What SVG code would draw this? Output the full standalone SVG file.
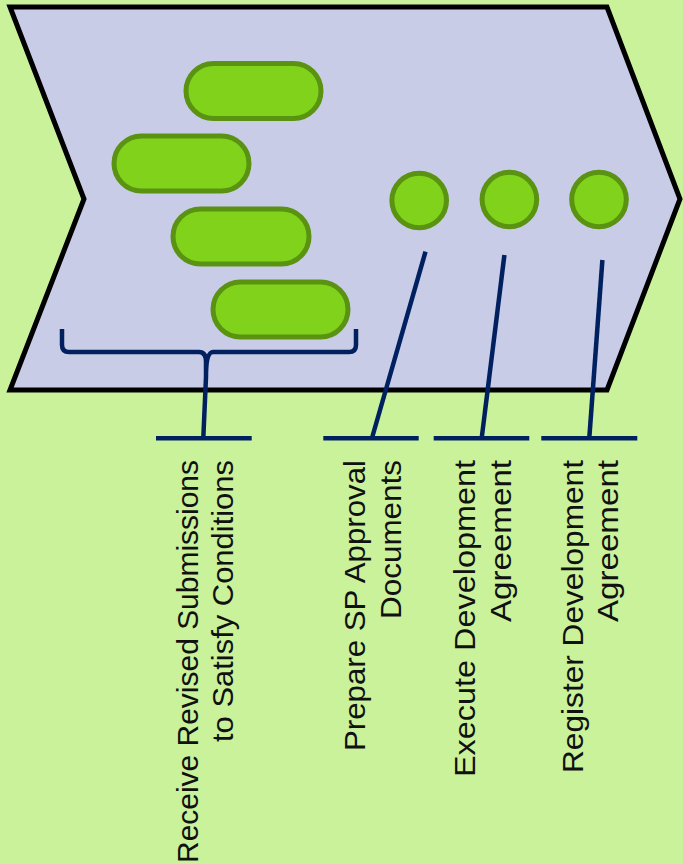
<svg xmlns="http://www.w3.org/2000/svg" width="683" height="864" viewBox="0 0 683 864">
<style>
.pill{fill:#80d31a;stroke:#5a9212;stroke-width:5}
.ln{fill:none;stroke:#002060;stroke-width:4.5;stroke-linecap:butt}
.lbl{font-family:"Liberation Sans",Arial,sans-serif;font-size:30px;fill:#111;text-anchor:end}
</style>
<rect width="683" height="864" fill="#caf29b"/>
<g id="chevron">
<polygon points="10,7 607,7 680,199 607,390 10,390 84,199" fill="#c8cce6" stroke="#000" stroke-width="5" stroke-linejoin="miter"/>
</g>
<g id="pill1"><rect class="pill" x="186" y="63.5" width="135" height="55" rx="27.5"/></g>
<g id="pill2"><rect class="pill" x="114" y="136" width="135" height="55" rx="27.5"/></g>
<g id="pill3"><rect class="pill" x="173" y="209" width="136" height="55" rx="27.5"/></g>
<g id="pill4"><rect class="pill" x="213" y="282" width="135" height="55" rx="27.5"/></g>
<g id="circle1"><circle class="pill" cx="419.2" cy="200.5" r="27.3"/></g>
<g id="circle2"><circle class="pill" cx="509.4" cy="199.5" r="27.3"/></g>
<g id="circle3"><circle class="pill" cx="599" cy="199.5" r="27.3"/></g>
<g id="connectors">
<path class="ln" d="M62,329 L62,345 Q62,352 69,352 L199,352 Q206,352 206,362 L206,377 Q206,352 213,352 L349,352 Q356,352 356,345 L356,329"/>
<path class="ln" d="M206,377 L203.3,438"/>
<path class="ln" d="M156,438.3 L251.7,438.3"/>
<path class="ln" d="M425.5,251.7 L372,438"/>
<path class="ln" d="M323.3,438.3 L418.7,438.3"/>
<path class="ln" d="M504.4,255 L481.7,438"/>
<path class="ln" d="M433.7,438.3 L529.3,438.3"/>
<path class="ln" d="M602.4,260 L589.3,438"/>
<path class="ln" d="M541.3,438.3 L637.3,438.3"/>
</g>
<g id="label1">
<text class="lbl" transform="translate(198.3,460) rotate(-90)" textLength="403" lengthAdjust="spacingAndGlyphs">Receive Revised Submissions</text>
<text class="lbl" transform="translate(233.3,460) rotate(-90)" textLength="282" lengthAdjust="spacingAndGlyphs">to Satisfy Conditions</text>
</g>
<g id="label2">
<text class="lbl" transform="translate(365,460) rotate(-90)" textLength="291" lengthAdjust="spacingAndGlyphs">Prepare SP Approval</text>
<text class="lbl" transform="translate(400.7,460) rotate(-90)" textLength="159" lengthAdjust="spacingAndGlyphs">Documents</text>
</g>
<g id="label3">
<text class="lbl" transform="translate(475,460) rotate(-90)" textLength="317" lengthAdjust="spacingAndGlyphs">Execute Development</text>
<text class="lbl" transform="translate(511,460) rotate(-90)" textLength="162" lengthAdjust="spacingAndGlyphs">Agreement</text>
</g>
<g id="label4">
<text class="lbl" transform="translate(583,460) rotate(-90)" textLength="313" lengthAdjust="spacingAndGlyphs">Register Development</text>
<text class="lbl" transform="translate(618,460) rotate(-90)" textLength="162" lengthAdjust="spacingAndGlyphs">Agreement</text>
</g>
</svg>
